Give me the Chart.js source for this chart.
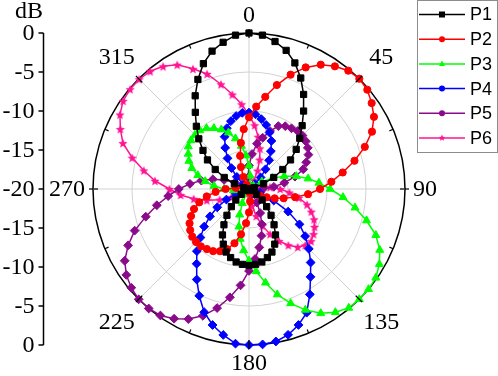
<!DOCTYPE html>
<html><head><meta charset="utf-8">
<script src="https://cdn.jsdelivr.net/npm/chart.js@4/dist/chart.umd.min.js"></script>
<style>html,body{margin:0;padding:0;background:#fff;}#wrap{width:498px;height:376px;position:relative;}</style>
</head><body><div id="wrap"><canvas id="c" width="498" height="376"></canvas></div>
<script>
// angle categories (degrees)
const angles = [0,5,10,15,20,25,30,35,40,45,50,55,60,65,70,75,80,85,90,95,100,105,110,115,120,125,130,135,140,145,150,155,160,165,170,175,180,185,190,195,200,205,210,215,220,225,230,235,240,245,250,255,260,265,270,275,280,285,290,295,300,305,310,315,320,325,330,335,340,345,350,355];
// series values in dB
const p1 = [0,-0.2,-0.8,-1.6,-2.8,-4.3,-6.0,-7.8,-9.4,-10.8,-12.1,-13.5,-15.0,-16.5,-18.0,-19.3,-20,-20,-20,-20,-20,-20,-20,-20,-19.6,-18.8,-17.8,-16.8,-15.6,-14.4,-13.2,-12.2,-11.4,-10.9,-10.5,-10.3,-10.2,-10.3,-10.5,-10.9,-11.4,-12.2,-13.2,-14.4,-15.6,-16.8,-17.8,-18.8,-19.6,-20,-20,-20,-20,-20,-20,-20,-20,-19.3,-18.0,-16.5,-15.0,-13.5,-12.3,-10.9,-9.5,-8.0,-6.2,-4.5,-2.9,-1.7,-0.9,-0.2];
const p2 = [-10.8,-9.4,-8.0,-6.2,-4.4,-2.8,-1.6,-0.8,-0.2,0,-0.2,-0.8,-1.5,-2.6,-4.2,-6.0,-7.8,-9.4,-10.9,-12.4,-14.0,-15.4,-16.5,-17.5,-18.4,-19.2,-20,-20,-20,-20,-20,-20,-20,-20,-19.5,-18.4,-17.0,-15.6,-14.1,-12.8,-11.8,-11.2,-10.8,-10.6,-10.4,-10.4,-10.5,-10.8,-11.2,-11.8,-12.5,-13.4,-14.5,-15.7,-17.0,-18.3,-19.4,-20,-20,-20,-20,-20,-20,-20,-20,-20,-19.4,-18.3,-17.0,-15.6,-14.0,-12.3];
const p3 = [-17.0,-18.3,-19.5,-20,-20,-20,-20,-20,-20,-20,-20,-19.3,-18.1,-16.7,-15.2,-13.7,-12.3,-11.0,-9.6,-7.9,-6.2,-4.4,-2.7,-1.5,-0.7,-0.15,0,0,-0.1,-0.7,-1.6,-2.9,-4.4,-6.0,-7.8,-9.4,-10.8,-12.1,-13.5,-15.0,-16.5,-18.0,-19.3,-20,-20,-20,-20,-20,-20,-20,-20,-20,-19.2,-18.0,-16.8,-15.5,-14.3,-13.2,-12.2,-11.5,-11.0,-10.5,-10.3,-10.2,-10.2,-10.5,-11.0,-11.6,-12.3,-13.3,-14.4,-15.7];
const p4 = [-10.2,-10.4,-10.9,-11.5,-12.3,-13.2,-14.4,-15.5,-16.7,-17.9,-19.0,-20,-20,-20,-20,-20,-20,-20,-20,-20,-20,-19.8,-18.5,-16.5,-14.2,-12.1,-10.6,-9.15,-7.7,-6.25,-4.4,-2.5,-1.45,-0.65,-0.15,0,0,-0.1,-1.0,-1.95,-3.2,-4.9,-6.6,-8.3,-9.6,-11.2,-12.5,-13.9,-15.3,-16.8,-18.2,-19.4,-20,-20,-20,-20,-20,-20,-20,-20,-20,-20,-19.0,-17.8,-16.5,-15.2,-13.9,-12.6,-11.7,-11.0,-10.5,-10.2];
const p5 = [-17.0,-15.5,-14.1,-13.2,-12.1,-11.1,-10.7,-10.5,-10.3,-10.3,-10.5,-10.8,-11.2,-11.9,-12.6,-13.9,-15.4,-16.8,-18.2,-19.5,-20,-20,-20,-20,-20,-20,-20,-20,-20,-19.2,-18.0,-16.6,-15.2,-13.8,-12.4,-11.0,-9.5,-7.6,-5.9,-4.2,-2.7,-1.6,-0.8,-0.2,0,0,-0.3,-0.8,-1.6,-2.9,-4.4,-6.3,-8.0,-9.6,-11.0,-12.4,-13.8,-15.2,-16.6,-18.0,-19.2,-20,-20,-20,-20,-20,-20,-20,-20,-20,-20,-18.5];
const p6 = [-10.5,-11.8,-13.2,-14.6,-16.0,-17.4,-18.7,-19.8,-20,-20,-20,-20,-20,-20,-20,-19.7,-18.6,-17.3,-16.0,-14.8,-13.5,-12.3,-11.5,-10.8,-10.3,-9.9,-9.6,-9.8,-10.3,-11.2,-12.3,-13.6,-15.0,-16.4,-17.8,-19.0,-20,-20,-20,-20,-20,-20,-20,-20,-20,-20,-20,-20,-19.0,-17.5,-16.0,-14.4,-12.8,-11.2,-9.8,-7.9,-6.3,-4.5,-2.8,-1.8,-0.9,-0.3,-0.1,-0.1,-0.3,-0.8,-1.6,-3.0,-4.3,-6.1,-7.7,-9.1];
const seriesNames = ['P1','P2','P3','P4','P5','P6'];
const angleTickLabels = ['0','45','90','135','180','225','270','315'];
const radialTicks = [0,-5,-10,-15,-20];

const colors = ['#000000','#ff0000','#00ff00','#0000ff','#8b0a8b','#ff1493'];

function makeStar(color, R){
  const s = Math.ceil(R*2+2);
  const c = document.createElement('canvas'); c.width = s; c.height = s;
  const g = c.getContext('2d'); g.fillStyle = color; g.beginPath();
  for (let i=0;i<10;i++){ const r = (i%2)? R*0.45 : R; const a = -Math.PI/2 + i*Math.PI/5; g.lineTo(s/2 + r*Math.cos(a), s/2 + 0.5 + r*Math.sin(a)); }
  g.closePath(); g.fill(); return c;
}
const starBig = makeStar(colors[5], 4.8);
const styles = ['rect','circle','triangle','rectRot','rectRot',starBig];
const radii = [4.4,3.6,4.6,4.4,4.4,4.8];
const values = [p1,p2,p3,p4,p5,p6];

function drawMarker(ctx, kind, x, y, r, color){
  ctx.save(); ctx.fillStyle = color; ctx.beginPath();
  if (kind==='rect'){ ctx.rect(x-r, y-r, 2*r, 2*r); }
  else if (kind==='circle'){ ctx.arc(x,y,r,0,Math.PI*2); }
  else if (kind==='triangle'){ ctx.moveTo(x, y-r*1.1); ctx.lineTo(x+r, y+r*0.7); ctx.lineTo(x-r, y+r*0.7); ctx.closePath(); }
  else if (kind==='rectRot'){ ctx.moveTo(x, y-r); ctx.lineTo(x+r, y); ctx.lineTo(x, y+r); ctx.lineTo(x-r, y); ctx.closePath(); }
  else { for (let i=0;i<10;i++){ const rr=(i%2)? r*0.45:r; const a=-Math.PI/2+i*Math.PI/5; ctx.lineTo(x+rr*Math.cos(a), y+rr*Math.sin(a)); } ctx.closePath(); }
  ctx.fill(); ctx.restore();
}

const deco = {
  id: 'deco',
  afterDraw(chart){
    const ctx = chart.ctx; const sc = chart.scales.r;
    const cx = sc.xCenter, cy = sc.yCenter, R = sc.drawingArea;
    ctx.save();
    // outer circle ticks
    ctx.strokeStyle = '#000'; ctx.lineWidth = 1.2;
    for (let k=0;k<16;k++){
      const a = k*22.5*Math.PI/180;
      const major = (k%2===0);
      const r0 = major ? R-5 : R-4, r1 = major ? R+4 : R;
      ctx.beginPath();
      ctx.moveTo(cx + r0*Math.sin(a), cy - r0*Math.cos(a));
      ctx.lineTo(cx + r1*Math.sin(a), cy - r1*Math.cos(a));
      ctx.stroke();
    }
    // angle labels
    ctx.fillStyle = '#000'; ctx.font = '24px "Liberation Serif", "Times New Roman", serif';
    ctx.textBaseline = 'middle';
    angleTickLabels.forEach((lab, k) => {
      const idx = angles.indexOf(Number(lab));
      let pad, align = 'center';
      if (k===0 || k===4) pad = 18;
      else if (k===2){ pad = 8; align = 'left'; }
      else if (k===6){ pad = 8; align = 'right'; }
      else pad = 31;
      const pos = sc.getPointPosition(idx, R + pad);
      ctx.textAlign = align;
      ctx.fillText(lab, pos.x, pos.y + 1);
    });
    // left axis
    const ax = 43.5;
    ctx.lineWidth = 1.5;
    ctx.beginPath(); ctx.moveTo(ax, cy - R); ctx.lineTo(ax, cy + R); ctx.stroke();
    ctx.textAlign = 'right';
    radialTicks.forEach(v => {
      const d = sc.getDistanceFromCenterForValue(v);
      [cy - d, cy + d].forEach((y, j) => {
        if (j===1 && v===-20) return;
        ctx.beginPath(); ctx.moveTo(ax-5, y); ctx.lineTo(ax, y); ctx.stroke();
        ctx.fillText(String(v), ax - 9, y + 1);
      });
    });
    ctx.textAlign = 'center';
    ctx.fillText('dB', 29, 12);
    // legend
    const lx = 417.5, ly = 0.5, lw = 80, lh = 152;
    ctx.fillStyle = '#fff'; ctx.fillRect(lx, ly, lw, lh);
    ctx.strokeStyle = '#8c8c8c'; ctx.lineWidth = 1; ctx.strokeRect(lx, ly, lw, lh);
    ctx.font = '18px "Liberation Sans", Arial, sans-serif'; ctx.textAlign = 'left'; ctx.textBaseline = 'middle';
    seriesNames.forEach((name, i) => {
      const y = 14.5 + i*24.7;
      ctx.strokeStyle = colors[i]; ctx.lineWidth = 1.5;
      ctx.beginPath(); ctx.moveTo(419, y); ctx.lineTo(465, y); ctx.stroke();
      const kinds = ['rect','circle','triangle','circle','circle','star'];
      drawMarker(ctx, kinds[i], 442, y, i===5 ? 3.5 : 3, colors[i]);
      ctx.fillStyle = '#000'; ctx.fillText(name, 470, y + 1);
    });
    ctx.restore();
  }
};

new Chart(document.getElementById('c'), {
  type: 'radar',
  data: {
    labels: angles.map(String),
    datasets: values.map((v, i) => ({
      label: seriesNames[i], data: v,
      borderColor: colors[i], backgroundColor: colors[i],
      pointBackgroundColor: colors[i], pointBorderColor: colors[i],
      pointStyle: styles[i], pointRadius: radii[i], pointBorderWidth: 1,
      borderWidth: 1.5, fill: false, tension: 0, clip: false
    }))
  },
  options: {
    responsive: false, animation: false, events: [],
    layout: { padding: { left: 93, top: 33, right: 93, bottom: 31 } },
    plugins: { legend: { display: false }, tooltip: { enabled: false } },
    scales: { r: {
      min: -20, max: 0, startAngle: 0,
      ticks: { display: false, stepSize: 5 },
      grid: { circular: true,
        color: c => c.tick && c.tick.value === 0 ? '#000' : '#d2d2d2',
        lineWidth: c => c.tick && c.tick.value === 0 ? 1.5 : 1 },
      angleLines: { color: '#d2d2d2', lineWidth: c => (c.index % 9 === 0) ? 1 : 0 },
      pointLabels: { display: false }
    } }
  },
  plugins: [deco]
});
</script></body></html>
